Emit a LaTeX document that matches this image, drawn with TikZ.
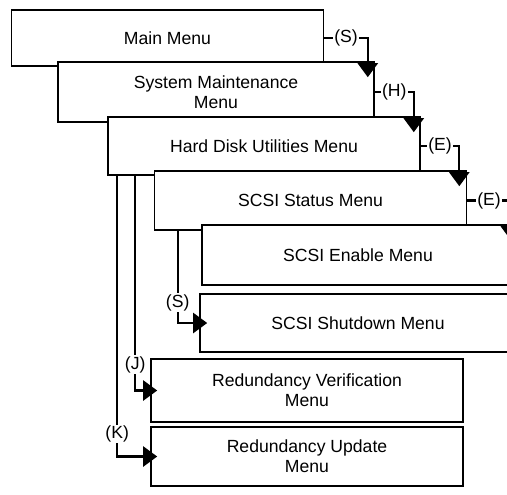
\documentclass[tikz,border=0pt]{standalone}
\usepackage{fontspec}
\setmainfont{Liberation Sans}
\usetikzlibrary{arrows.meta}

\begin{document}
\begin{tikzpicture}[
  x=0.5pt, y=-0.5pt,
  font=\fontsize{8.8}{10}\selectfont,
  box/.style={draw, line width=0.8pt, fill=white, align=center, inner sep=0pt,
              minimum width=156pt, minimum height=29pt},
  lbl/.style={fill=white, inner sep=0.6pt},
  ar/.style={-{Triangle[length=7pt, width=10pt]}, line width=1.1pt}
]
\useasboundingbox (0,0) rectangle (507,494);
\clip (0,0) rectangle (507,494);
% menu boxes, each one laid over the one before
\node[box, minimum height=28pt] (main) at (167.5,38) {Main Menu};
\node[box, minimum width=158pt, minimum height=30pt] (sys) at (216,92)
      {System Maintenance\\Menu};
\node[box] (hd) at (264,146) {Hard Disk Utilities Menu};
\node[box, minimum height=29.5pt] (stat) at (310.5,200.5) {SCSI Status Menu};
\node[box, minimum height=30pt] (enab) at (358,255) {SCSI Enable Menu};
\node[box, minimum width=158pt] (shut) at (358,323) {SCSI Shutdown Menu};
\node[box, minimum height=31.5pt] (rver) at (307,390.5)
      {Redundancy Verification\\Menu};
\node[box, minimum height=29.5pt] (rupd) at (307,456.5)
      {Redundancy Update\\Menu};
% key selections on the right
\draw[ar] (main.east) -| ([xshift=-3.5pt, yshift=-8pt]sys.north east)
      node[pos=0.25, lbl] {(S)};
\draw[ar] (sys.east) -| ([xshift=-3.5pt, yshift=-8pt]hd.north east)
      node[pos=0.25, lbl] {(H)};
\draw[ar] (hd.east) -| ([xshift=-4pt, yshift=-8pt]stat.north east)
      node[pos=0.25, lbl] {(E)};
\draw[ar] (stat.east) -| ([xshift=-2pt, yshift=-8pt]enab.north east)
      node[pos=0.25, lbl] {(E)};
% key selections on the left
\draw[ar] ([xshift=12pt]stat.south west) |- ([xshift=4pt]shut.west)
      node[pos=0.39, lbl] {(S)};
\draw[ar] ([xshift=14pt]hd.south west) |- ([xshift=3.5pt]rver.west)
      node[pos=0.44, lbl] {(J)};
\draw[ar] ([xshift=5pt]hd.south west) |- ([xshift=3.5pt]rupd.west)
      node[pos=0.46, lbl] {(K)};
\end{tikzpicture}
\end{document}
